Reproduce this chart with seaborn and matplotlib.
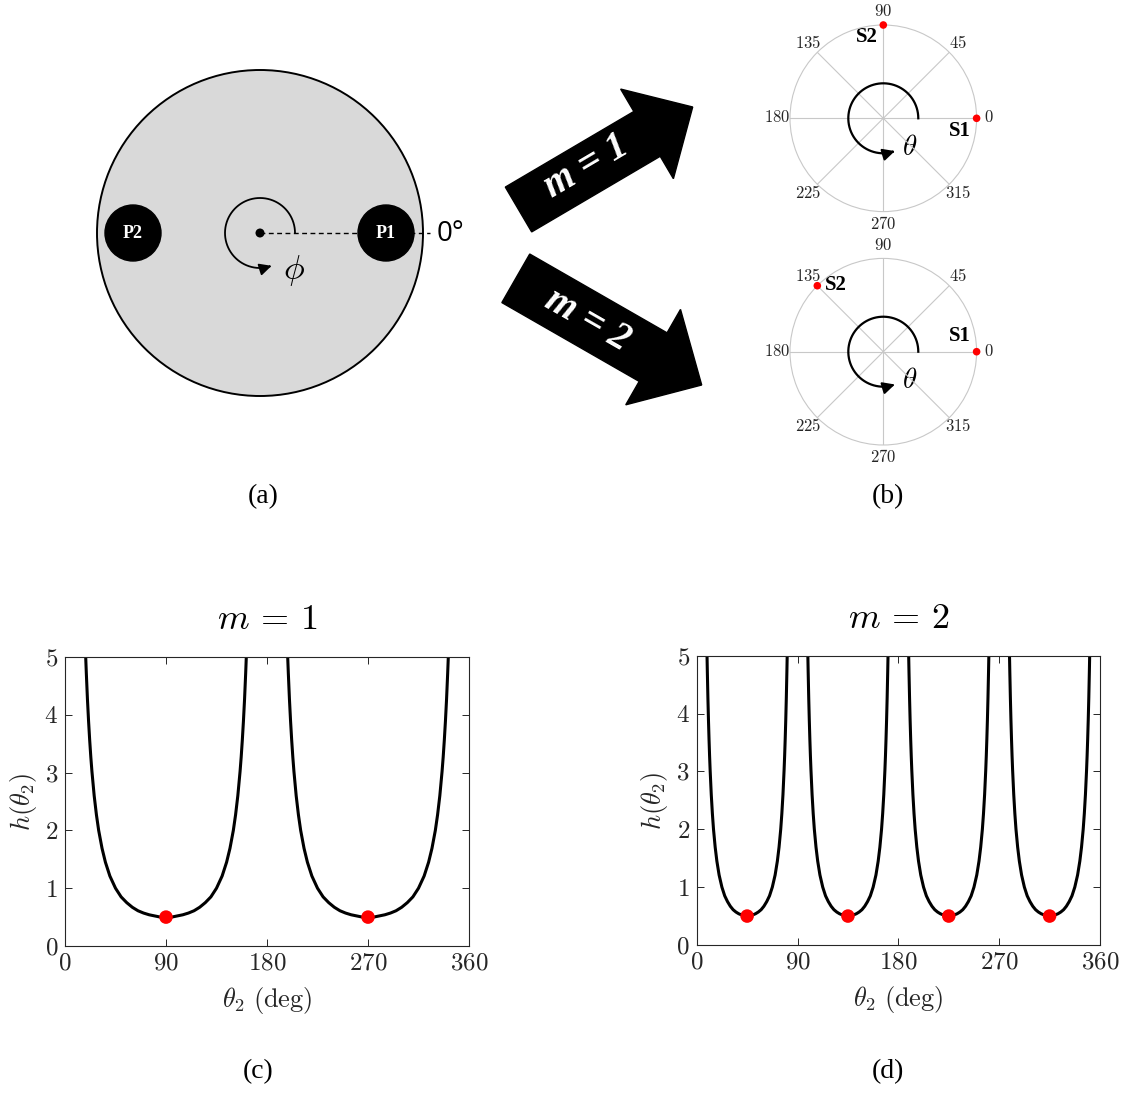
import numpy as np
import pandas as pd
import matplotlib
matplotlib.use("Agg")
import matplotlib.pyplot as plt
import matplotlib.patches as mpatches
import seaborn as sns

# ---------------- data ----------------
# one branch of h(theta2) for m = 1
theta_m1_branch = [18, 18.5, 19, 20, 21, 22, 23, 24, 26, 28, 30, 33, 36, 40, 45, 50, 55, 60, 65, 70,
                   75, 80, 85, 90, 95, 100, 105, 110, 115, 120, 125, 130, 135, 140, 144, 147, 150,
                   152, 154, 156, 157, 158, 159, 160, 161, 161.5, 162]
# one branch of h(theta2) for m = 2
theta_m2_branch = [9, 9.25, 9.5, 10, 10.5, 11, 11.5, 12, 13, 14, 15, 16.5, 18, 20, 22.5, 25, 27.5, 30,
                   32.5, 35, 37.5, 40, 42.5, 45, 47.5, 50, 52.5, 55, 57.5, 60, 62.5, 65, 67.5, 70, 72,
                   73.5, 75, 76, 77, 78, 78.5, 79, 79.5, 80, 80.5, 80.75, 81]
h_branch = [5.24, 4.97, 4.72, 4.27, 3.89, 3.56, 3.27, 3.02, 2.60, 2.27, 2.00, 1.69, 1.45, 1.21, 1.00,
            0.85, 0.75, 0.67, 0.61, 0.57, 0.54, 0.52, 0.50, 0.50, 0.50, 0.52, 0.54, 0.57, 0.61, 0.67,
            0.75, 0.85, 1.00, 1.21, 1.45, 1.69, 2.00, 2.27, 2.60, 3.02, 3.27, 3.56, 3.89, 4.27, 4.72,
            4.97, 5.24]
branch_start_m1 = [0, 180]
branch_start_m2 = [0, 90, 180, 270]

min_theta_m1 = [90, 270]
min_h_m1 = [0.5, 0.5]
min_theta_m2 = [45, 135, 225, 315]
min_h_m2 = [0.5, 0.5, 0.5, 0.5]

xticks = [0, 90, 180, 270, 360]
yticks = [0, 1, 2, 3, 4, 5]

polar_angles = [0, 45, 90, 135, 180, 225, 270, 315]
polar_labels = ["0", "45", "90", "135", "180", "225", "270", "315"]
s_angles_m1 = [0, 90]
s_angles_m2 = [0, 135]

# ---------------- style ----------------
plt.rcParams["mathtext.fontset"] = "cm"
plt.rcParams["font.family"] = ["Liberation Serif", "DejaVu Serif"]

W, H = 1128, 1093
fig = plt.figure(figsize=(W / 100, H / 100), dpi=100)
fig.patch.set_facecolor("white")

# overlay in pixel coordinates
ov = fig.add_axes([0, 0, 1, 1], zorder=0)
ov.set_xlim(0, W)
ov.set_ylim(H, 0)
ov.axis("off")

# ---- panel (a) ----
cx, cy, R = 260, 233, 163
ov.add_patch(mpatches.Circle((cx, cy), R, facecolor="#d9d9d9", edgecolor="black", lw=1.4, zorder=1))
ov.plot([cx, 430], [cy, cy], ls=(0, (3.5, 2.5)), color="black", lw=1.0, zorder=2)
ov.add_patch(mpatches.Circle((386, cy), 28, facecolor="black", edgecolor="black", zorder=3))
ov.add_patch(mpatches.Circle((133, cy), 28, facecolor="black", edgecolor="black", zorder=3))
ov.text(386, cy, "P1", color="white", fontsize=13, fontweight="bold", ha="center", va="center", zorder=4)
ov.text(133, cy, "P2", color="white", fontsize=13, fontweight="bold", ha="center", va="center", zorder=4)
ov.add_patch(mpatches.Circle((cx, cy), 4.5, facecolor="black", zorder=4))
t = np.deg2rad(np.linspace(0, 283, 200))
ra = 35
ov.plot(cx + ra * np.cos(t), cy - ra * np.sin(t), color="black", lw=1.3, zorder=4)
te = np.deg2rad(294)
ts = np.deg2rad(281)
ov.annotate("", xy=(cx + ra * np.cos(te), cy - ra * np.sin(te)),
            xytext=(cx + ra * np.cos(ts), cy - ra * np.sin(ts)),
            arrowprops=dict(arrowstyle="-|>", color="black", mutation_scale=18, lw=1.3), zorder=5)
ov.text(294, 270, r"$\phi$", fontsize=25, ha="center", va="center", zorder=5)
ov.text(451, 234, "0°", fontsize=20, family="Open Sans", ha="center", va="center")
ov.text(263, 497, "(a)", fontsize=20, ha="center", va="center")
ov.text(888, 497, "(b)", fontsize=20, ha="center", va="center")
ov.text(258, 1072, "(c)", fontsize=20, ha="center", va="center")
ov.text(888, 1072, "(d)", fontsize=20, ha="center", va="center")

# ---- big arrows ----
ov.add_patch(mpatches.FancyArrow(518.5, 209.5, 174.2, -102.5, width=52, head_width=104, head_length=53,
                                 length_includes_head=True, color="black", zorder=2))
ov.add_patch(mpatches.FancyArrow(515.8, 278.3, 185.9, 106.7, width=56, head_width=110, head_length=56,
                                 length_includes_head=True, color="black", zorder=2))
ov.text(587, 167, "m = 1", color="white", fontsize=28, fontweight="bold", fontstyle="italic",
        rotation=30.5, rotation_mode="anchor", ha="center", va="center", zorder=3)
ov.text(587, 320, "m = 2", color="white", fontsize=28, fontweight="bold", fontstyle="italic",
        rotation=-29.8, rotation_mode="anchor", ha="center", va="center", zorder=3)

# ---- panel (b): polar plots ----
def polar_panel(center_y, s_angles):
    Rp = 93.3
    ax = fig.add_axes([(883.3 - Rp) / W, (H - center_y - Rp) / H, 2 * Rp / W, 2 * Rp / H],
                      projection="polar", zorder=2)
    ax.set_facecolor("none")
    ax.set_ylim(0, 1)
    ax.set_yticks([])
    ax.set_xticks(np.deg2rad(polar_angles))
    ax.set_xticklabels(["$" + s + "$" for s in polar_labels], fontsize=12, color="#262626")
    ax.tick_params(axis="x", pad=-1.5)
    ax.xaxis.grid(True, color="#c8c8c8", lw=0.8)
    ax.spines["polar"].set_color("#c8c8c8")
    ax.spines["polar"].set_linewidth(0.8)
    # theta arc
    ta = np.deg2rad(np.linspace(0, 281, 200))
    ax.plot(ta, np.full_like(ta, 0.375), color="black", lw=1.6)
    ax.annotate("", xy=(np.deg2rad(294), 0.375), xytext=(np.deg2rad(280), 0.375),
                arrowprops=dict(arrowstyle="-|>", color="black", mutation_scale=18, lw=1.5))
    sdf = pd.DataFrame({"ang": np.deg2rad(s_angles), "r": [1.0] * len(s_angles)})
    sns.scatterplot(data=sdf, x="ang", y="r", ax=ax, color="red", s=30, edgecolor="none",
                    clip_on=False, zorder=5, legend=False)
    ax.set_xlabel("")
    ax.set_ylabel("")
    return ax

polar_panel(118.3, s_angles_m1)
polar_panel(351.7, s_angles_m2)
ov.text(910, 148, r"$\theta$", fontsize=21, ha="center", va="center", zorder=5)
ov.text(910, 381, r"$\theta$", fontsize=21, ha="center", va="center", zorder=5)
ov.text(960, 131, "S1", fontsize=15, fontweight="bold", ha="center", va="center", zorder=5)
ov.text(867, 37, "S2", fontsize=15, fontweight="bold", ha="center", va="center", zorder=5)
ov.text(960, 336, "S1", fontsize=15, fontweight="bold", ha="center", va="center", zorder=5)
ov.text(836, 285, "S2", fontsize=15, fontweight="bold", ha="center", va="center", zorder=5)

# ---- panels (c), (d) ----
def h_panel(rect, theta_branch, starts, mt, mh, title):
    ax = fig.add_axes(rect, zorder=2)
    rows = []
    for k, s in enumerate(starts):
        for th, hv in zip(theta_branch, h_branch):
            rows.append({"theta": s + th, "h": hv, "branch": k})
    df = pd.DataFrame(rows)
    sns.lineplot(data=df, x="theta", y="h", units="branch", estimator=None, sort=False,
                 color="black", lw=2.2, ax=ax, legend=False)
    mdf = pd.DataFrame({"theta": mt, "h": mh})
    sns.scatterplot(data=mdf, x="theta", y="h", color="red", s=95, edgecolor="none",
                    zorder=5, ax=ax, legend=False)
    ax.set_xlim(0, 360)
    ax.set_ylim(0, 5)
    ax.set_xticks(xticks)
    ax.set_xticklabels(["$%d$" % v for v in xticks], fontsize=18, color="#262626")
    ax.set_yticks(yticks)
    ax.set_yticklabels(["$%d$" % v for v in yticks], fontsize=18, color="#262626")
    ax.tick_params(direction="in", top=True, right=True, length=5, width=0.7, color="#262626", pad=5)
    for sp in ax.spines.values():
        sp.set_color("#262626")
        sp.set_linewidth(0.8)
    ax.set_xlabel(r"$\theta_2\ \mathrm{(deg)}$", fontsize=19, color="#262626", labelpad=7)
    ax.set_ylabel(r"$h(\theta_2)$", fontsize=19, color="#262626", labelpad=4)
    ax.set_title(title, fontsize=26, pad=20)
    return ax

h_panel([65 / W, (H - 946) / H, 404 / W, 289 / H], theta_m1_branch, branch_start_m1,
        min_theta_m1, min_h_m1, r"$m\,=\,1$")
h_panel([696.7 / W, (H - 945) / H, 403.3 / W, 289.3 / H], theta_m2_branch, branch_start_m2,
        min_theta_m2, min_h_m2, r"$m\,=\,2$")

fig.savefig("out.png", dpi=100, facecolor="white")
